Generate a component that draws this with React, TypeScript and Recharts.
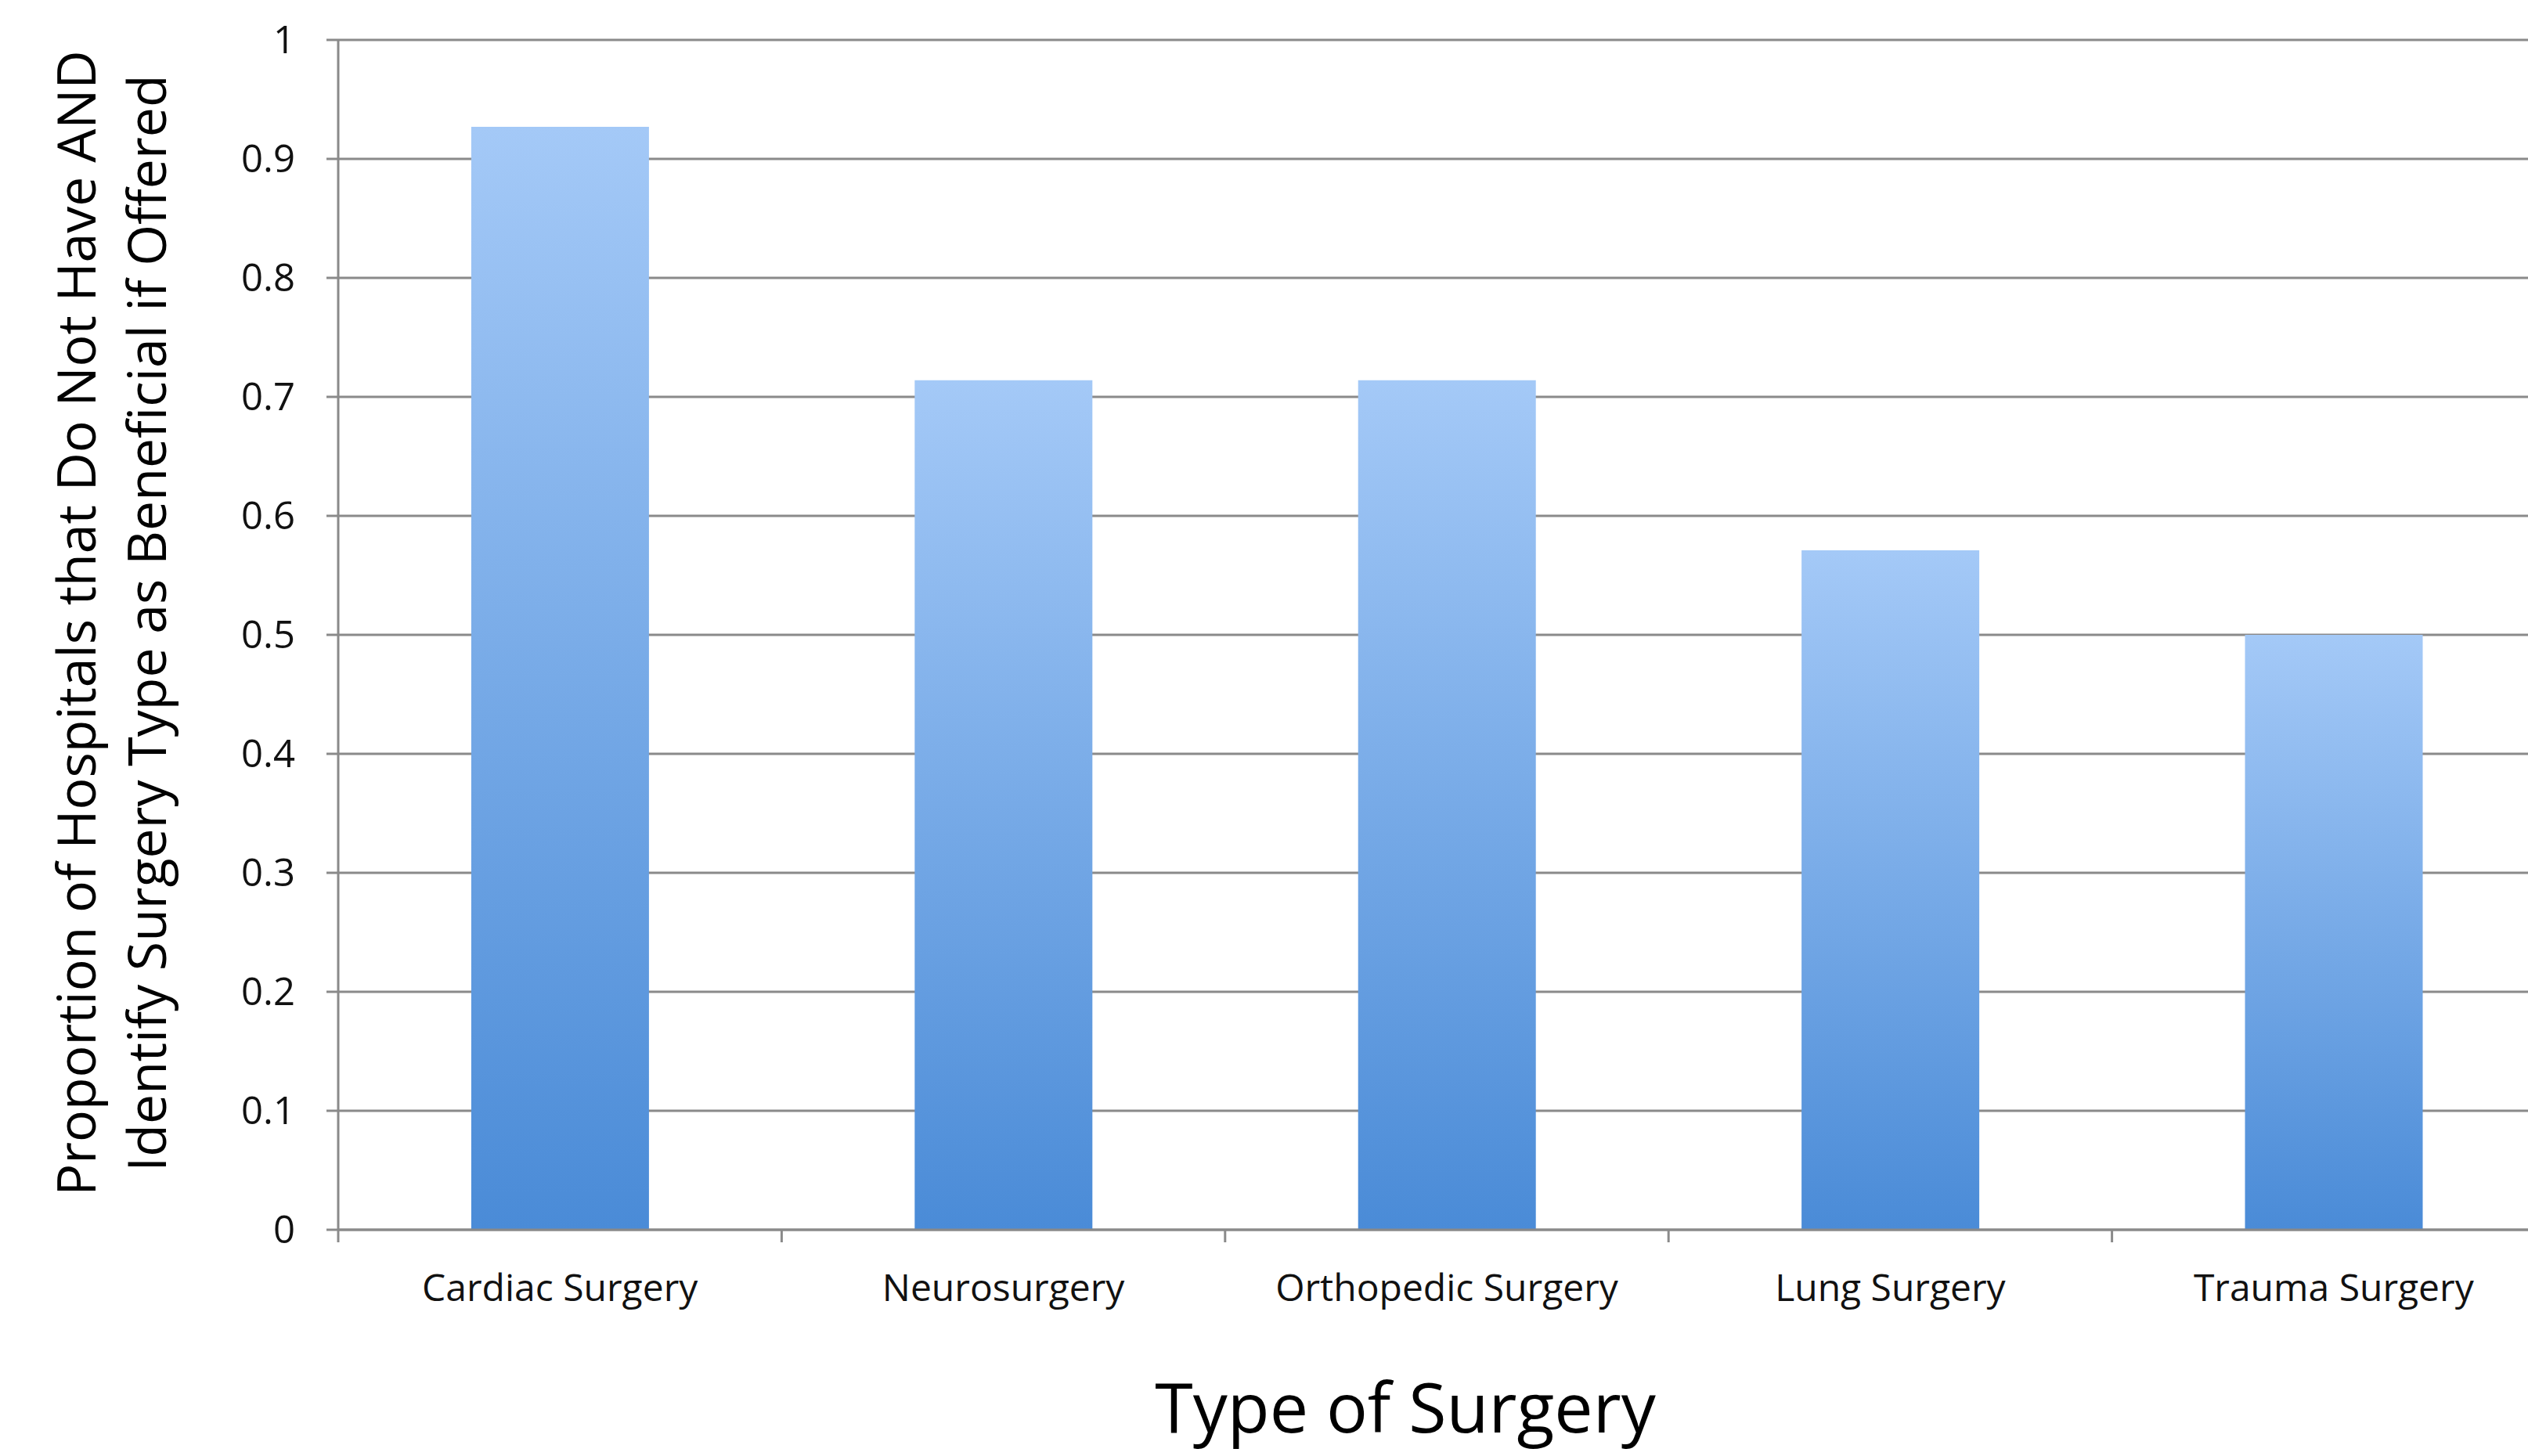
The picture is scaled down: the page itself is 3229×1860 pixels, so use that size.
import { BarChart, Bar, XAxis, YAxis, CartesianGrid } from 'recharts';

const categories = ['Cardiac Surgery', 'Neurosurgery', 'Orthopedic Surgery', 'Lung Surgery', 'Trauma Surgery'];
const proportions = [0.927, 0.714, 0.714, 0.571, 0.5];
const yTicks = [0, 0.1, 0.2, 0.3, 0.4, 0.5, 0.6, 0.7, 0.8, 0.9, 1];

const yTitleLines = ['Proportion of Hospitals that Do Not Have AND', 'Identify Surgery Type as Beneficial if Offered'];
const xTitle = 'Type of Surgery';

const data = categories.map((name, i) => ({ name, value: proportions[i] }));

const FONT = "'Open Sans', sans-serif";
const AXIS = '#8a8a8a';
const CHART_W = 3300;
const CHART_H = 1860;
const Y_AXIS_W = 432;
const MARGIN = { top: 51, right: 36, bottom: 0, left: 0 };
const BAND = (CHART_W - MARGIN.left - MARGIN.right - Y_AXIS_W) / categories.length;

function CategoryTick({ x, y, payload }: any) {
  const half = payload && payload.offset ? payload.offset : BAND / 2;
  return (
    <g>
      <line x1={x - half} x2={x - half} y1={y} y2={y + 16} stroke={AXIS} strokeWidth={3} />
      <text x={x} y={y + 91} textAnchor="middle" fontFamily={FONT} fontSize={48} fill="#111">
        {payload.value}
      </text>
    </g>
  );
}

function YTitle(props: any) {
  const vb = props.viewBox || { x: 0, y: MARGIN.top, width: Y_AXIS_W, height: 1520 };
  const cy = vb.y + vb.height / 2 - 15;
  const xs = [vb.x + 122, vb.x + 212];
  return (
    <g>
      {yTitleLines.map((line, i) => (
        <text
          key={i}
          x={xs[i]}
          y={cy}
          transform={`rotate(-90 ${xs[i]} ${cy})`}
          textAnchor="middle"
          fontFamily={FONT}
          fontSize={68}
          fill="#000"
        >
          {line}
        </text>
      ))}
    </g>
  );
}

function XTitle(props: any) {
  const vb = props.viewBox || { x: Y_AXIS_W, y: 1571, width: 2832, height: 289 };
  return (
    <text x={vb.x + 1363} y={vb.y + 259} textAnchor="middle" fontFamily={FONT} fontSize={88} fill="#000">
      {xTitle}
    </text>
  );
}

export default function App() {
  return (
    <div style={{ position: 'absolute', left: 0, top: 0, width: 3229, height: 1860, overflow: 'hidden', background: '#fff' }}>
      <BarChart width={CHART_W} height={CHART_H} data={data} margin={MARGIN} barCategoryGap="30%">
        <defs>
          <linearGradient id="barGrad" x1="0" y1="0" x2="0" y2="1">
            <stop offset="0%" stopColor="#a4c9f7" />
            <stop offset="100%" stopColor="#4a8bd7" />
          </linearGradient>
        </defs>
        <CartesianGrid vertical={false} stroke={AXIS} strokeWidth={3} />
        <XAxis
          dataKey="name"
          height={289}
          stroke={AXIS}
          strokeWidth={3}
          tickLine={false}
          tickSize={0}
          tickMargin={0}
          tick={<CategoryTick />}
          interval={0}
          label={XTitle}
        />
        <YAxis
          width={Y_AXIS_W}
          domain={[0, 1]}
          ticks={yTicks}
          interval={0}
          stroke={AXIS}
          strokeWidth={3}
          tickSize={15}
          tickMargin={40}
          tick={{ fill: '#111', fontSize: 49, fontFamily: FONT }}
          label={YTitle}
        />
        <Bar dataKey="value" fill="url(#barGrad)" isAnimationActive={false} />
      </BarChart>
    </div>
  );
}
